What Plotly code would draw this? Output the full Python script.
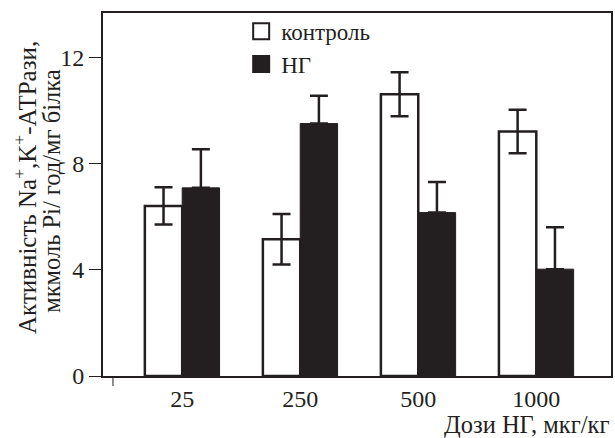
import plotly.graph_objects as go

doses = ["25", "250", "500", "1000"]
control = [6.4, 5.15, 10.6, 9.2]
control_err = [0.7, 0.95, 0.83, 0.82]
ng = [7.08, 9.5, 6.15, 4.02]
ng_err = [1.45, 1.05, 1.15, 1.58]
y_ticks = [0, 4, 8, 12]

y_title_1 = "Активність Na<sup>+</sup>,K<sup>+</sup>-АТРази,"
y_title_2 = "мкмоль Pi/ год/мг білка"
x_title = "Дози НГ, мкг/кг"

INK = "#231f20"
FONT = "Liberation Serif"

fig = go.Figure()
fig.add_trace(go.Bar(
    x=doses, y=control, name="контроль", showlegend=False,
    marker=dict(color="white", line=dict(color=INK, width=2.5)),
    error_y=dict(type="data", array=control_err, visible=True,
                 color=INK, thickness=2.5, width=9),
))
fig.add_trace(go.Bar(
    x=doses, y=ng, name="НГ", showlegend=False,
    marker=dict(color=INK, line=dict(color=INK, width=1)),
    error_y=dict(type="data", symmetric=False, array=ng_err,
                 arrayminus=[0] * len(ng), visible=True,
                 color=INK, thickness=2.5, width=9),
))
# legend entries
fig.add_trace(go.Scatter(
    x=[None], y=[None], mode="markers", name="контроль",
    marker=dict(symbol="square", size=16, color="white",
                line=dict(color=INK, width=2)),
))
fig.add_trace(go.Scatter(
    x=[None], y=[None], mode="markers", name="НГ",
    marker=dict(symbol="square", size=16, color=INK,
                line=dict(color=INK, width=2)),
))

fig.update_layout(
    width=615, height=438,
    margin=dict(l=103, r=2, t=13, b=62),
    paper_bgcolor="white", plot_bgcolor="white",
    font=dict(family=FONT, size=23, color=INK),
    barmode="group", bargap=0.367, bargroupgap=0,
    legend=dict(x=0.272, y=1.009, xanchor="left", yanchor="top",
                bgcolor="rgba(0,0,0,0)", itemwidth=30,
                font=dict(family=FONT, size=23, color=INK),
                tracegroupgap=0),
    xaxis=dict(
        type="category", range=[-0.671, 3.633],
        showline=True, linecolor=INK, linewidth=2, mirror=True,
        ticks="", showgrid=False, zeroline=False,
        tickfont=dict(family=FONT, size=24, color=INK),
    ),
    yaxis=dict(
        range=[0, 13.66], tickvals=y_ticks,
        showline=True, linecolor=INK, linewidth=2, mirror=True,
        ticks="outside", ticklen=12, tickwidth=1, tickcolor=INK,
        showgrid=False, zeroline=False,
        tickfont=dict(family=FONT, size=24, color=INK),
    ),
)

fig.add_annotation(
    text=y_title_1, xref="paper", yref="paper", x=0, y=0.518,
    xanchor="center", yanchor="middle", xshift=-78, textangle=-90,
    showarrow=False, font=dict(family=FONT, size=25, color=INK),
)
fig.add_annotation(
    text=y_title_2, xref="paper", yref="paper", x=0, y=0.510,
    xanchor="center", yanchor="middle", xshift=-51, textangle=-90,
    showarrow=False, font=dict(family=FONT, size=24.5, color=INK),
)
fig.add_annotation(
    text=x_title, xref="paper", yref="paper",
    x=1.0, y=0, xanchor="right", yanchor="middle", yshift=-48,
    showarrow=False, font=dict(family=FONT, size=24.5, color=INK),
)
fig.add_shape(
    type="line", xref="paper", yref="paper", x0=0.0196, x1=0.0196,
    ysizemode="pixel", yanchor=0, y0=0, y1=-10,
    line=dict(color=INK, width=1),
)

fig.write_html("out.html", config={"displayModeBar": False},
               post_script="document.body.style.margin='0';")
